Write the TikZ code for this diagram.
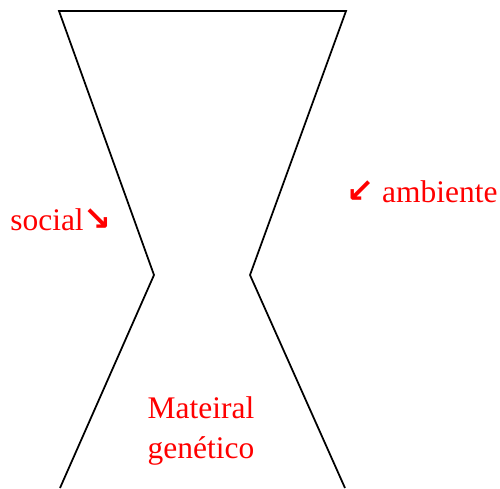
\documentclass[tikz,border=0pt]{standalone}
\usepackage{fontspec}
\setmainfont{Liberation Serif}
\newfontfamily\arrowfont{DejaVu Sans}
\usepackage{tikz}
\usetikzlibrary{positioning}

\begin{document}
\begin{tikzpicture}[x=0.02cm, y=-0.02cm,
  wall/.style={draw=black, line width=1pt, line join=miter},
  lbl/.style={text=red, font=\fontsize{17.9}{23}\selectfont, inner sep=0pt, align=center}
]
  \useasboundingbox (0,0) rectangle (500,488);

  % hourglass outline
  \coordinate (topL)  at (59,11);
  \coordinate (topR)  at (346,11);
  \coordinate (waistL) at (154,275);
  \coordinate (waistR) at (250,275);
  \coordinate (botL)  at (60,488);
  \coordinate (botR)  at (345,488);
  \draw[wall] (botL) -- (waistL) -- (topL) -- (topR) -- (waistR) -- (botR);

  % labels
  \node[lbl, anchor=west] (social)   at (10,220)  {social{\arrowfont\bfseries\fontsize{19}{23}\selectfont ↘}};
  \node[lbl, anchor=west] (ambiente) at (346,192) {{\arrowfont\bfseries\fontsize{19}{23}\selectfont ↙} ambiente};
  \node[lbl] (material) at (201,431) {Mateiral\\genético};
\end{tikzpicture}
\end{document}
